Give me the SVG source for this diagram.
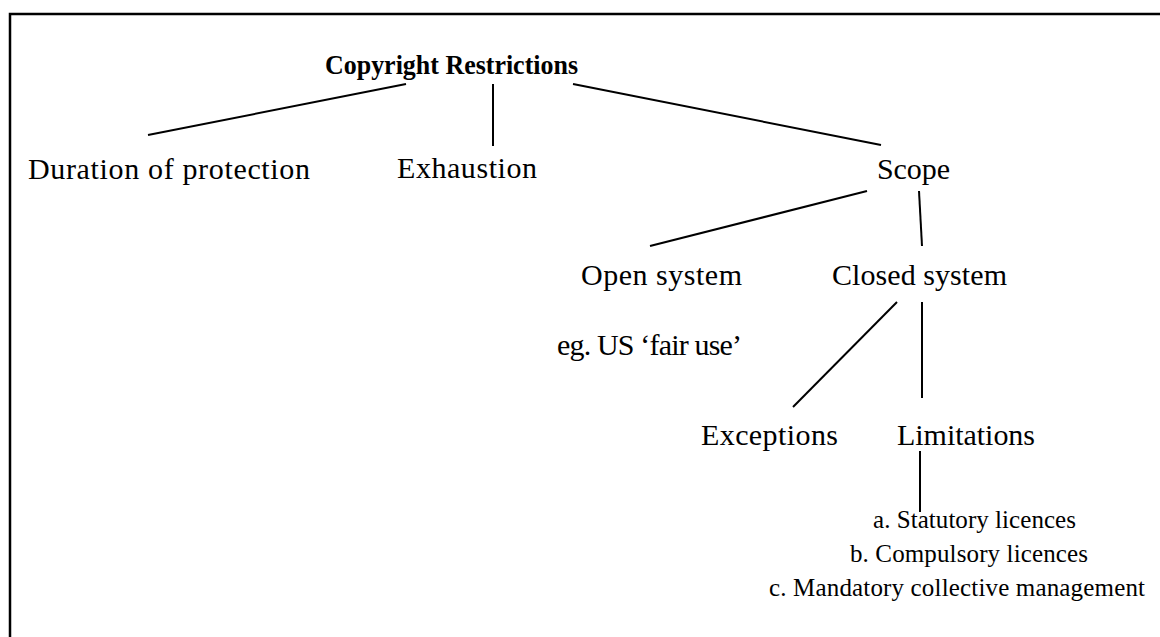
<svg xmlns="http://www.w3.org/2000/svg" width="1160" height="637" viewBox="0 0 1160 637">
<style>
text{font-family:"Liberation Serif","DejaVu Serif",serif;fill:#000;text-anchor:middle}
.t{font-size:30px}
.h{font-size:28px;font-weight:bold}
.s{font-size:25px}
.c line{stroke:#000;stroke-width:2;stroke-linecap:butt}
</style>
<rect x="0" y="0" width="1160" height="637" fill="#fff"/>
<rect x="10" y="14" width="1200" height="700" fill="none" stroke="#000" stroke-width="2.5"/>
<g class="c" id="connectors">
<line x1="406" y1="84" x2="148" y2="135"/>
<line x1="493" y1="84" x2="493" y2="146"/>
<line x1="573" y1="84" x2="881" y2="145"/>
<line x1="867" y1="191" x2="650" y2="246"/>
<line x1="919" y1="191" x2="922" y2="246"/>
<line x1="897" y1="302" x2="793" y2="407"/>
<line x1="922" y1="302" x2="922" y2="398"/>
<line x1="920" y1="451" x2="920" y2="512"/>
</g>
<g id="root"><text class="h" x="451.5" y="74" textLength="253" lengthAdjust="spacingAndGlyphs">Copyright Restrictions</text></g>
<g id="duration"><text class="t" x="169" y="179" textLength="282">Duration of protection</text></g>
<g id="exhaustion"><text class="t" x="467" y="178" textLength="140">Exhaustion</text></g>
<g id="scope"><text class="t" x="913.5" y="179" textLength="73">Scope</text></g>
<g id="open"><text class="t" x="661.5" y="285" textLength="161">Open system</text></g>
<g id="closed"><text class="t" x="919.5" y="285" textLength="175">Closed system</text></g>
<g id="fairuse"><text class="t" x="649.5" y="355" textLength="185">eg. US ‘fair use’</text></g>
<g id="exceptions"><text class="t" x="769.5" y="445" textLength="137">Exceptions</text></g>
<g id="limitations"><text class="t" x="966" y="445" textLength="138">Limitations</text></g>
<g id="limitation-list">
<text class="s" x="974.5" y="528" textLength="203">a. Statutory licences</text>
<text class="s" x="969" y="562" textLength="238">b. Compulsory licences</text>
<text class="s" x="957" y="596" textLength="376">c. Mandatory collective management</text>
</g>
</svg>
